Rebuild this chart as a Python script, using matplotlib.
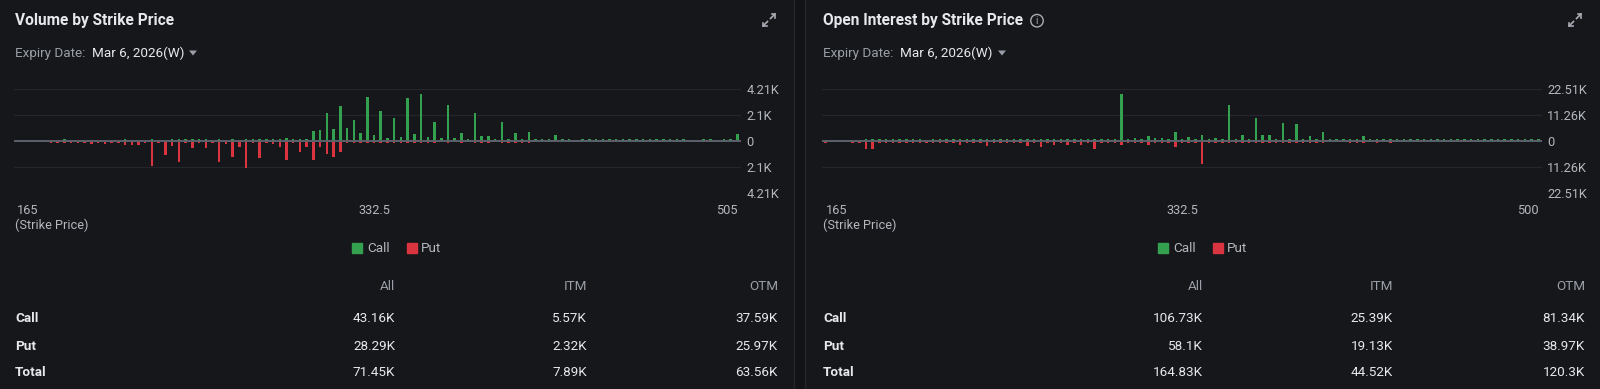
import matplotlib
matplotlib.use("Agg")
import matplotlib.pyplot as plt
import numpy as np
from matplotlib.lines import Line2D
from matplotlib.patches import Ellipse, Polygon, Rectangle

W, H = 1600, 389
plt.rcParams["font.family"] = ["Roboto", "DejaVu Sans"]

BG = "#16171b"
GREEN = "#34a150"
RED = "#d9343f"
WHITE = "#e6e8eb"
GREY = "#9a9fa7"
TICK = "#b3b7be"

# ---- data -------------------------------------------------------------
strikes_vol = [165, 170, 175, 180, 185, 190, 195, 200, 205, 210, 215, 220, 225, 230, 235,
               237.5, 240, 242.5, 245, 247.5, 250, 252.5, 255, 257.5, 260, 262.5, 265, 267.5,
               270, 272.5, 275, 277.5, 280, 282.5, 285, 287.5, 290, 292.5, 295, 297.5, 300,
               302.5, 305, 307.5, 310, 312.5, 315, 317.5, 320, 322.5, 325, 327.5, 330, 332.5,
               335, 337.5, 340, 342.5, 345, 347.5, 350, 352.5, 355, 357.5, 360, 362.5, 365,
               367.5, 370, 372.5, 375, 377.5, 380, 382.5, 385, 387.5, 390, 392.5, 395, 397.5,
               400, 402.5, 405, 407.5, 410, 412.5, 415, 417.5, 420, 422.5, 425, 427.5, 430,
               435, 440, 445, 450, 455, 460, 465, 470, 475, 480, 485, 490, 495, 500, 505]
strikes_oi = strikes_vol[:-1]

vol_call = [0, 0, 0, 0, 0, 0, 0, 40, 0, 0, 0, 0, 0, 0, 0, 0, 35, 0, 0, 0,
            60, 0, 0, 45, 70, 30, 55, 40, 50, 0, 65, 0, 40, 0, 55, 35, 60, 45, 50, 40,
            270, 50, 60, 45, 840, 860, 2240, 1000, 2860, 1050, 1700, 670, 3590, 510, 2430, 270, 1890, 350, 3510, 590,
            3827, 350, 1510, 270, 2910, 240, 670, 60, 2290, 430, 430, 80, 1510, 70, 650, 60, 760, 50, 45, 60,
            510, 40, 50, 0, 35, 40, 45, 50, 200, 40, 35, 45, 40, 50, 35, 40, 45, 35, 40, 30,
            0, 0, 35, 40, 0, 30, 45, 590]
vol_put = [0, 0, 0, 0, 0, 60, 70, 60, 80, 70, 60, 240, 70, 240, 80, 90, 320, 350, 300, 90,
           2020, 80, 1130, 380, 1730, 90, 590, 100, 590, 150, 1670, 240, 1320, 510, 2160, 100, 1400, 90, 270, 460,
           1570, 100, 920, 490, 1540, 510, 1080, 1300, 860, 100, 90, 80, 110, 90, 100, 80, 90, 70, 90, 80,
           100, 70, 80, 0, 90, 0, 70, 0, 80, 70, 90, 0, 80, 70, 60, 70, 80, 0, 0, 0,
           0, 0, 0, 0, 0, 0, 0, 0, 0, 0, 0, 0, 0, 0, 0, 0, 0, 0, 0, 0,
           0, 0, 0, 0, 0, 0, 0, 0]

oi_call = [0, 0, 0, 0, 0, 0, 150, 160, 140, 150, 130, 150, 160, 140, 150, 0, 150, 140, 160, 150,
           150, 140, 150, 160, 150, 140, 150, 150, 160, 140, 150, 150, 140, 160, 150, 150, 140, 150, 160, 150,
           150, 140, 150, 160, 20465, 150, 1300, 160, 2300, 1400, 1300, 150, 3900, 160, 1900, 150, 2600, 140, 1400, 150,
           15600, 160, 2700, 150, 10000, 2700, 2500, 150, 7800, 140, 7500, 150, 2000, 160, 3750, 150, 140, 150, 160, 150,
           2200, 150, 140, 160, 150, 140, 150, 160, 150, 140, 150, 150, 160, 140, 150, 150, 140, 160, 150, 150,
           140, 150, 160, 150, 140, 150, 160]
oi_put = [400, 0, 0, 0, 300, 350, 3600, 3300, 400, 380, 420, 400, 390, 410, 400, 400, 420, 380, 400, 410,
          1900, 400, 390, 410, 2000, 400, 380, 420, 400, 390, 2200, 410, 2500, 400, 1900, 390, 1900, 400, 1900, 410,
          3300, 400, 380, 420, 1600, 400, 1000, 390, 1900, 410, 400, 380, 2500, 400, 390, 410, 10100, 400, 380, 420,
          400, 390, 410, 400, 380, 420, 400, 390, 410, 400, 380, 420, 400, 390, 410, 0, 0, 0, 400, 380,
          420, 0, 400, 0, 390, 0, 0, 0, 0, 0, 0, 0, 0, 0, 0, 0, 0, 0, 0, 0,
          0, 0, 0, 0, 0, 0, 0]

vol_cols = ["All", "ITM", "OTM"]
vol_table = {"Call": ["43.16K", "5.57K", "37.59K"],
             "Put": ["28.29K", "2.32K", "25.97K"],
             "Total": ["71.45K", "7.89K", "63.56K"]}
oi_table = {"Call": ["106.73K", "25.39K", "81.34K"],
            "Put": ["58.1K", "19.13K", "38.97K"],
            "Total": ["164.83K", "44.52K", "120.3K"]}


def fx(x):
    return x / W


def fy(y):
    return 1 - y / H


def kfmt(v):
    v = abs(v)
    if v < 1:
        return "0"
    return f"{v / 1000:.2f}".rstrip("0").rstrip(".") + "K"


fig = plt.figure(figsize=(16, 3.89), dpi=100, facecolor=BG)

# panel divider
fig.add_artist(Rectangle((fx(794), 0), fx(11), 1, transform=fig.transFigure,
                         fc="#121316", ec="none"))
for xx in (794, 805):
    fig.add_artist(Line2D([fx(xx), fx(xx)], [0, 1], transform=fig.transFigure,
                          color="#25272c", lw=1))


def bar_panel(x0, x1, strikes, call, put):
    ax = fig.add_axes([fx(x0), fy(192.7), fx(x1 - x0), (192.7 - 89.3) / H])
    ax.set_facecolor("none")
    n = len(strikes)
    idx = np.arange(n)
    call = np.array(call, float)
    put = np.array(put, float)
    ymax = 1.1 * max(call.max(), put.max())
    minh = ymax * 0.042
    ch = np.where(call > 0, np.maximum(call, minh), 0)
    ph = np.where(put > 0, np.maximum(put, minh), 0)
    ax.bar(idx, ch, width=0.37, color=GREEN, zorder=3)
    ax.bar(idx, -ph, width=0.37, color=RED, zorder=3)
    ax.set_xlim(-0.5, n - 0.5)
    ax.set_ylim(-ymax, ymax)
    ticks = [-ymax, -ymax / 2, 0, ymax / 2, ymax]
    for t in ticks:
        if t == 0:
            ax.axhline(0, color="#5c616b", lw=1.4, zorder=4)
        else:
            ax.axhline(t, color="#24262b", lw=0.9, zorder=1)
    ax.yaxis.tick_right()
    ax.set_yticks(ticks)
    ax.set_yticklabels([kfmt(t) for t in ticks])
    ax.tick_params(axis="y", length=0, pad=4, labelsize=9.2, labelcolor=TICK)
    mid = (n - 1) // 2
    ax.set_xticks([0, mid, n - 1])
    ax.set_xticklabels([f"{strikes[0]:g}", f"{strikes[mid]:g}", f"{strikes[-1]:g}"])
    ax.tick_params(axis="x", length=0, pad=8, labelsize=9.2, labelcolor=TICK)
    labs = ax.get_xticklabels()
    labs[0].set_ha("left")
    labs[-1].set_ha("right")
    for s in ax.spines.values():
        s.set_visible(False)
    return ax


bar_panel(14, 740.7, strikes_vol, vol_call, vol_put)
bar_panel(822.3, 1541.7, strikes_oi, oi_call, oi_put)


def header(x, title, date_x, tri_x):
    fig.text(fx(x), fy(20.7), title, color=WHITE, fontsize=11.2, fontweight="bold",
             va="center", ha="left")
    fig.text(fx(x), fy(53.3), "Expiry Date:", color=GREY, fontsize=9.7, va="center")
    fig.text(fx(date_x), fy(53.3), "Mar 6, 2026(W)", color=WHITE, fontsize=9.7, va="center")
    tri = Polygon([[fx(tri_x - 4), fy(50.5)], [fx(tri_x + 4), fy(50.5)], [fx(tri_x), fy(55.5)]],
                  closed=True, transform=fig.transFigure, fc=GREY, ec="none")
    fig.add_artist(tri)
    fig.text(fx(x), fy(225), "(Strike Price)", color=TICK, fontsize=9.2, va="center")


def expand_icon(cx, cy):
    kw = dict(transform=fig.transFigure, color="#a8acb3", lw=1.2)
    fig.add_artist(Line2D([fx(cx + 1.5), fx(cx + 6)], [fy(cy - 1.5), fy(cy - 6)], **kw))
    fig.add_artist(Line2D([fx(cx + 2.5), fx(cx + 6), fx(cx + 6)],
                          [fy(cy - 6), fy(cy - 6), fy(cy - 2.5)], **kw))
    fig.add_artist(Line2D([fx(cx - 1.5), fx(cx - 6)], [fy(cy + 1.5), fy(cy + 6)], **kw))
    fig.add_artist(Line2D([fx(cx - 6), fx(cx - 6), fx(cx - 2.5)],
                          [fy(cy + 2.5), fy(cy + 6), fy(cy + 6)], **kw))


header(15, "Volume by Strike Price", 92, 193)
header(823, "Open Interest by Strike Price", 900, 1002)
expand_icon(769, 20)
expand_icon(1575, 20)

# info icon
fig.add_artist(Ellipse((fx(1037), fy(20.7)), 12.5 / W, 12.5 / H, transform=fig.transFigure,
                       fc="none", ec="#a8acb3", lw=1.0))
fig.text(fx(1037), fy(21), "i", color="#a8acb3", fontsize=7, ha="center", va="center")

# legends
for cx in (397, 1203):
    handles = [Line2D([], [], marker="s", ls="none", ms=6.5, mfc=GREEN, mec=GREEN),
               Line2D([], [], marker="s", ls="none", ms=6.5, mfc=RED, mec=RED)]
    fig.legend(handles, ["Call", "Put"], loc="center", bbox_to_anchor=(fx(cx), fy(249)),
               ncol=2, frameon=False, handlelength=0.7, handletextpad=0.35,
               columnspacing=1.3, fontsize=9.7, labelcolor=TICK, borderpad=0)


def table(x_label, col_right, data):
    for c, xr in zip(vol_cols, col_right):
        fig.text(fx(xr), fy(286), c, color=GREY, fontsize=9.7, ha="right", va="center")
    for row, y in zip(data, (319, 346, 372)):
        fig.text(fx(x_label), fy(y), row, color=WHITE, fontsize=9.7, fontweight="bold",
                 va="center")
        for v, xr in zip(data[row], col_right):
            fig.text(fx(xr), fy(y), v, color=WHITE, fontsize=9.7, ha="right", va="center")


table(15, (395, 587, 778), vol_table)
table(823, (1203, 1393, 1585), oi_table)

fig.savefig("out.png", dpi=100, facecolor=BG)
